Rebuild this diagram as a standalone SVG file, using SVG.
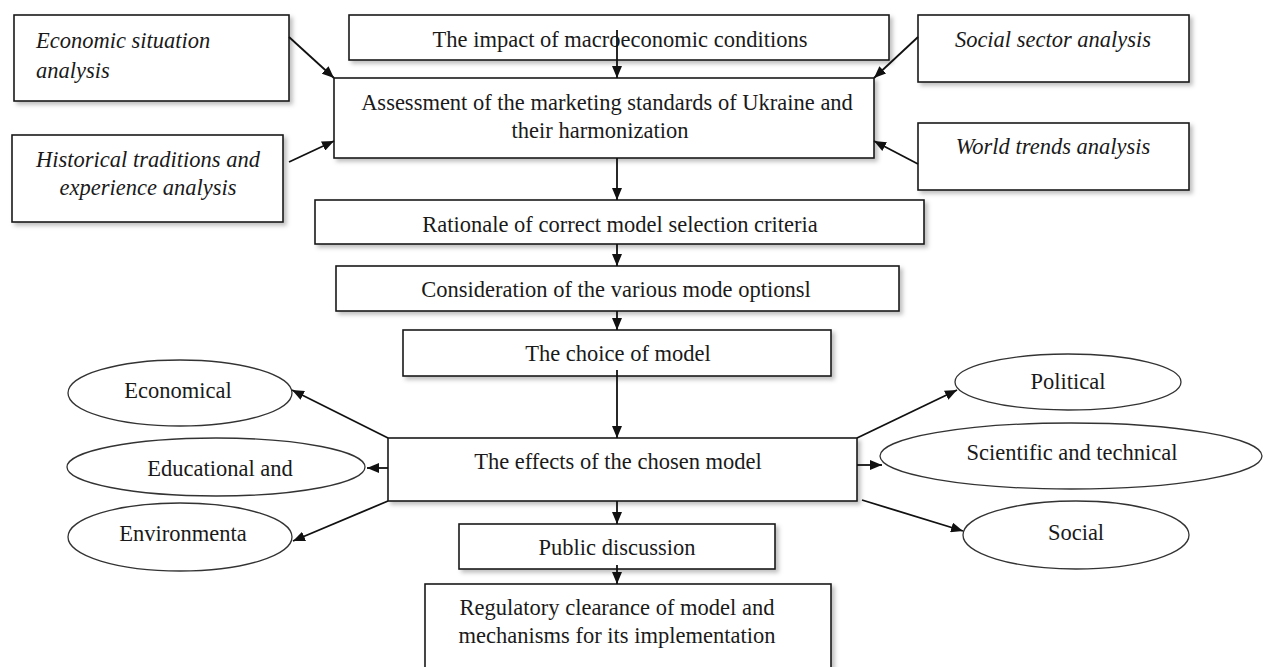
<svg xmlns="http://www.w3.org/2000/svg" width="1266" height="667" viewBox="0 0 1266 667">
<style>
.box{fill:#fff;stroke:#1a1a1a;stroke-width:1.6;filter:url(#sh)}
.ell{fill:#fff;stroke:#333;stroke-width:1.3}
.t{font-family:"Liberation Serif","Times New Roman",serif;font-size:22.5px;fill:#1a1a1a;text-anchor:middle}
.i{font-style:italic}
.l{text-anchor:start}
.c{stroke:#111;stroke-width:1.8;fill:none;marker-end:url(#ah)}
</style>
<defs>
<filter id="sh" x="-5%" y="-10%" width="115%" height="130%">
<feDropShadow dx="3" dy="3" stdDeviation="2" flood-color="#000" flood-opacity="0.25"/>
</filter>
<marker id="ah" markerWidth="12" markerHeight="10" refX="12" refY="5" orient="auto" markerUnits="userSpaceOnUse">
<path d="M0,0 L12,5 L0,10 Z" fill="#111"/>
</marker>
</defs>
<rect width="1266" height="667" fill="#fff"/>

<g id="economic-situation">
<rect class="box" x="14" y="15" width="275" height="86"/>
<text class="t i l" x="36" y="48">Economic situation</text>
<text class="t i l" x="36" y="78">analysis</text>
</g>
<g id="macro-impact">
<rect class="box" x="349" y="15" width="540" height="45"/>
<text class="t" x="620" y="47">The impact of macroeconomic conditions</text>
</g>
<g id="social-sector">
<rect class="box" x="918" y="15" width="271" height="67"/>
<text class="t i" x="1053" y="47">Social sector analysis</text>
</g>
<g id="assessment">
<rect class="box" x="334" y="78" width="540" height="80"/>
<text class="t" x="607" y="110">Assessment of the marketing standards of Ukraine and</text>
<text class="t" x="600" y="138">their harmonization</text>
</g>
<g id="historical">
<rect class="box" x="12" y="135" width="271" height="87"/>
<text class="t i" x="148" y="167">Historical traditions and</text>
<text class="t i" x="148" y="195">experience analysis</text>
</g>
<g id="world-trends">
<rect class="box" x="918" y="123" width="271" height="67"/>
<text class="t i" x="1053" y="154">World trends analysis</text>
</g>
<g id="rationale">
<rect class="box" x="315" y="200" width="609" height="44"/>
<text class="t" x="620" y="232">Rationale of correct model selection criteria</text>
</g>
<g id="consideration">
<rect class="box" x="336" y="266" width="563" height="45"/>
<text class="t" x="616" y="297">Consideration of the various mode optionsl</text>
</g>
<g id="choice">
<rect class="box" x="403" y="330" width="428" height="46"/>
<text class="t" x="618" y="361">The choice of model</text>
</g>
<g id="effects">
<rect class="box" x="388" y="438" width="469" height="63"/>
<text class="t" x="618" y="469">The effects of the chosen model</text>
</g>
<g id="public">
<rect class="box" x="459" y="524" width="316" height="45"/>
<text class="t" x="617" y="555">Public discussion</text>
</g>
<g id="regulatory">
<rect class="box" x="425" y="584" width="406" height="90"/>
<text class="t" x="617" y="615">Regulatory clearance of model and</text>
<text class="t" x="617" y="643">mechanisms for its implementation</text>
</g>

<g id="economical">
<ellipse class="ell" cx="180" cy="393" rx="112" ry="33"/>
<text class="t" x="178" y="398">Economical</text>
</g>
<g id="educational">
<ellipse class="ell" cx="216" cy="467" rx="149" ry="29"/>
<text class="t" x="220" y="476">Educational and</text>
</g>
<g id="environmental">
<ellipse class="ell" cx="180" cy="537" rx="112" ry="34"/>
<text class="t" x="183" y="541">Environmenta</text>
</g>
<g id="political">
<ellipse class="ell" cx="1068" cy="382" rx="113" ry="28"/>
<text class="t" x="1068" y="389">Political</text>
</g>
<g id="scientific">
<ellipse class="ell" cx="1071" cy="456" rx="191" ry="33"/>
<text class="t" x="1072" y="460">Scientific and technical</text>
</g>
<g id="social">
<ellipse class="ell" cx="1076" cy="535" rx="113" ry="34"/>
<text class="t" x="1076" y="540">Social</text>
</g>

<g id="connectors">
<line class="c" x1="289" y1="37" x2="334" y2="78"/>
<line class="c" x1="289" y1="162" x2="334" y2="141"/>
<line class="c" x1="918" y1="37" x2="874" y2="78"/>
<line class="c" x1="918" y1="164" x2="874" y2="141"/>
<line class="c" x1="617" y1="30" x2="617" y2="78"/>
<line class="c" x1="617" y1="158" x2="617" y2="200"/>
<line class="c" x1="617" y1="244" x2="617" y2="266"/>
<line class="c" x1="617" y1="311" x2="617" y2="330"/>
<line class="c" x1="617" y1="370" x2="617" y2="438"/>
<line class="c" x1="617" y1="501" x2="617" y2="524"/>
<line class="c" x1="617" y1="565" x2="617" y2="584"/>
<line class="c" x1="388" y1="438" x2="292" y2="390"/>
<line class="c" x1="388" y1="468" x2="367" y2="468"/>
<line class="c" x1="388" y1="501" x2="293" y2="541"/>
<line class="c" x1="857" y1="438" x2="957" y2="390"/>
<line class="c" x1="857" y1="465" x2="882" y2="465"/>
<line class="c" x1="862" y1="500" x2="963" y2="531"/>
</g>
</svg>
